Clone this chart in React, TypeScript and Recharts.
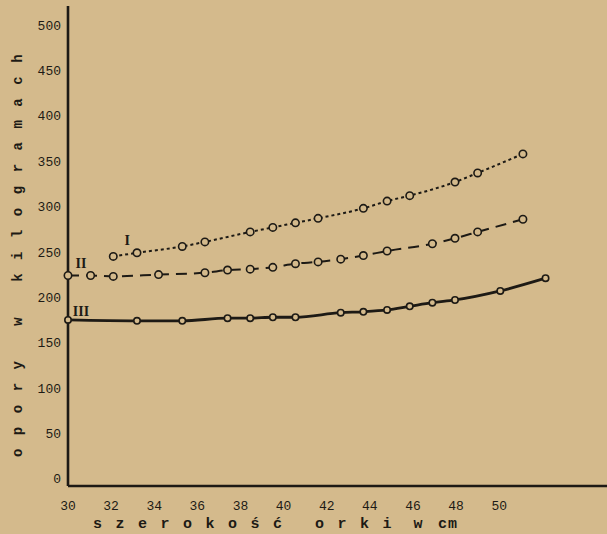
import { CartesianGrid, Line, LineChart, ReferenceDot, XAxis, YAxis } from "recharts";

// szerokość orki (cm) read against the typed axis labels
const widthCm = [
  30, 31.05, 32.1, 33.2, 34.2, 35.3, 36.35, 37.4, 38.45, 39.5, 40.55,
  41.6, 42.65, 43.7, 44.8, 45.85, 46.9, 47.95, 49.0, 50.05, 51.1, 52.15,
];

// opory w kg, null = no measurement at that width
const seriesI = [
  null, null, 245, 249, null, 256, 261, null, 272, 277, 282,
  287, null, 298, 306, 312, null, 327, 337, null, 358, null,
];
const seriesII = [
  224, 224, 223, null, 225, null, 227, 230, 231, 233, 237,
  239, 242, 246, 251, null, 259, 265, 272, null, 286, null,
];
const seriesIII = [
  175, null, null, 174, null, 174, null, 177, 177, 178, 178,
  null, 183, 184, 186, 190, 194, 197, null, 207, null, 221,
];

const xTicks = [30, 32, 34, 36, 38, 40, 42, 44, 46, 48, 50];
const yTicks = [0, 50, 100, 150, 200, 250, 300, 350, 400, 450, 500];

const seriesLabels = [
  { name: "I", x: 32.75, y: 263 },
  { name: "II", x: 30.6, y: 238 },
  { name: "III", x: 30.6, y: 185 },
];

const data = widthCm.map((w, i) => ({
  w,
  I: seriesI[i],
  II: seriesII[i],
  III: seriesIII[i],
}));

const paper = "#d4ba8c";
const ink = "#1d1a15";
const mono = "'Liberation Mono', 'DejaVu Sans Mono', monospace";

const dot = { r: 3.7, fill: paper, stroke: ink, strokeWidth: 1.6, strokeDasharray: "0" };

function XLabel() {
  return (
    <g fontFamily={mono} fontWeight="bold" fontSize={15} fill={ink}>
      <text x={93} y={528} letterSpacing={13.5}>
        szerokość
      </text>
      <text x={315} y={528} letterSpacing={13.5}>
        orki
      </text>
      <text x={418} y={528} textAnchor="middle">
        w
      </text>
      <text x={448} y={528} textAnchor="middle" letterSpacing={1}>
        cm
      </text>
    </g>
  );
}

function YLabel() {
  return (
    <text
      x={18}
      y={249}
      transform="rotate(-90 18 249)"
      textAnchor="middle"
      dominantBaseline="central"
      fontFamily={mono}
      fontWeight="bold"
      fontSize={14}
      letterSpacing={13.5}
      fill={ink}
    >
      opory w kilogramach
    </text>
  );
}

export default function App() {
  return (
    <div style={{ position: "absolute", left: 0, top: 0, width: 607, height: 534, background: paper }}>
      <LineChart width={607} height={534} data={data} margin={{ top: 6, right: 0, bottom: 0, left: 0 }}>
        <CartesianGrid stroke="none" />
        <XAxis
          dataKey="w"
          type="number"
          domain={[30, 55]}
          ticks={xTicks}
          height={48}
          tickSize={0}
          tickMargin={15}
          tickLine={false}
          axisLine={{ stroke: ink, strokeWidth: 2.6 }}
          tick={{ fill: ink, fontSize: 13, fontFamily: mono }}
          label={<XLabel />}
        />
        <YAxis
          type="number"
          domain={[-8, 521]}
          ticks={yTicks}
          width={68}
          tickSize={0}
          tickMargin={7}
          tickLine={false}
          axisLine={{ stroke: ink, strokeWidth: 2.6 }}
          tick={{ fill: ink, fontSize: 13, fontFamily: mono }}
          label={<YLabel />}
        />
        <Line
          dataKey="I"
          type="monotone"
          stroke={ink}
          strokeWidth={2}
          strokeDasharray="3 3"
          dot={dot}
          connectNulls
          isAnimationActive={false}
        />
        <Line
          dataKey="II"
          type="monotone"
          stroke={ink}
          strokeWidth={2}
          strokeDasharray="11 7"
          dot={dot}
          connectNulls
          isAnimationActive={false}
        />
        <Line
          dataKey="III"
          type="monotone"
          stroke={ink}
          strokeWidth={2.8}
          dot={{ ...dot, r: 3.2 }}
          connectNulls
          isAnimationActive={false}
        />
        {seriesLabels.map((s) => (
          <ReferenceDot
            key={s.name}
            x={s.x}
            y={s.y}
            r={0}
            fill="none"
            stroke="none"
            label={{
              value: s.name,
              position: "center",
              fill: ink,
              fontSize: 14,
              fontWeight: "bold",
              fontFamily: "'Liberation Serif', serif",
            }}
          />
        ))}
      </LineChart>
    </div>
  );
}
